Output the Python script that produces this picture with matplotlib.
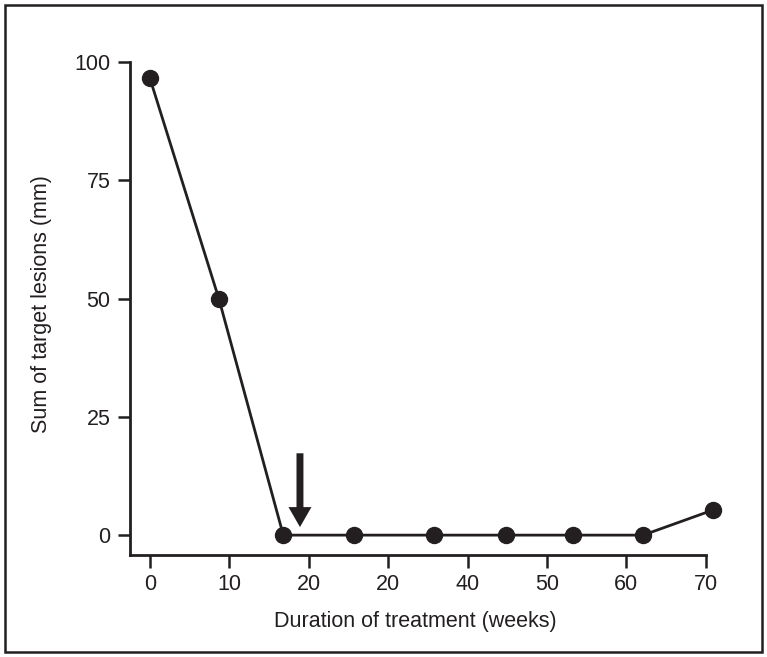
import matplotlib
matplotlib.use("Agg")
import matplotlib.pyplot as plt
from matplotlib.patches import Rectangle

weeks = [0, 8.7, 16.8, 25.7, 35.8, 44.8, 53.3, 62.1, 70.9]
lesions = [96.6, 49.9, 0, 0, 0, 0, 0, 0, 5.3]
xticks = [0, 10, 20, 30, 40, 50, 60, 70]
xticklabels = ["0", "10", "20", "20", "40", "50", "60", "70"]
yticks = [0, 25, 50, 75, 100]
arrow_x = 18.9
arrow_y_top = 17.3
arrow_y_tip = 1.7

C = "#231f20"
plt.rcParams['font.family'] = ['Liberation Sans', 'DejaVu Sans']

fig = plt.figure(figsize=(7.67, 6.57), dpi=100)
fig.patches.append(Rectangle((5/767, 5/657), 757/767, 647/657, transform=fig.transFigure,
                             fill=False, edgecolor=C, linewidth=1.8))
ax = fig.add_axes([130/767, 1-555/657, (721.7-130)/767, (555-62)/657])
ax.plot(weeks, lesions, color=C, lw=2.0, marker='o', ms=11.5, mfc=C, mec=C, clip_on=False, zorder=3)
ax.set_xlim(-2.5, 72)
ax.set_ylim(-4.2, 100)
ax.spines['top'].set_visible(False)
ax.spines['right'].set_visible(False)
ax.spines['bottom'].set_bounds(-2.5, 70)
for s in ['left', 'bottom']:
    ax.spines[s].set_linewidth(2.0)
    ax.spines[s].set_color(C)
ax.set_xticks(xticks)
ax.set_xticklabels(xticklabels)
ax.set_yticks(yticks)
ax.tick_params(axis='both', length=9, width=1.8, color=C, labelcolor=C, labelsize=15.5, pad=5)
ax.set_xlabel("Duration of treatment (weeks)", fontsize=15.5, color=C, labelpad=11)
ax.xaxis.label.set_x(0.482)
ax.set_ylabel("Sum of target lesions (mm)", fontsize=15.5, color=C, labelpad=16)
ax.yaxis.label.set_y(0.51)
ax.annotate("", xy=(arrow_x, arrow_y_tip), xytext=(arrow_x, arrow_y_top),
            arrowprops=dict(width=5, headwidth=16.5, headlength=14.4,
                            fc=C, ec=C, lw=0, shrink=0))
fig.savefig("out.png", dpi=100)
